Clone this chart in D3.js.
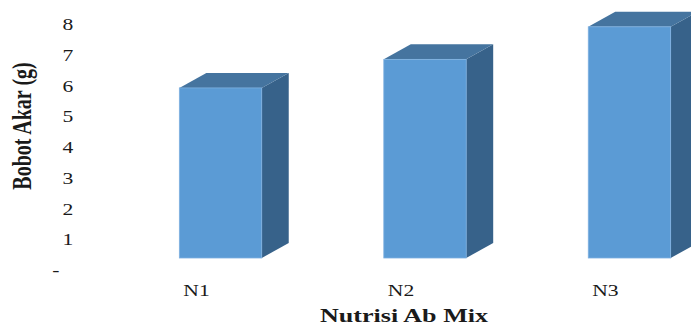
<!DOCTYPE html>
<html>
<head>
<meta charset="utf-8">
<script src="https://cdn.jsdelivr.net/npm/d3@7"></script>
<style>
  html, body { margin: 0; padding: 0; background: #fff; }
  svg { display: block; }
  text { font-family: "Liberation Serif", "Times New Roman", serif; fill: #1a1a1a; }
</style>
</head>
<body>
<svg id="chart" width="691" height="326"></svg>
<script>
// Root weight per nutrient treatment
const categories = ["N1", "N2", "N3"];
const values = [5.54, 6.47, 7.53];
const yTicks = [0, 1, 2, 3, 4, 5, 6, 7, 8];
const xTitle = "Nutrisi Ab Mix";
const yTitle = "Bobot Akar (g)";

const W = 691, H = 326;
const svg = d3.select("#chart");

// 3D box depth offsets
const depthX = 27, depthY = 15;
const floorY = 258;      // front bottom edge of the columns
const unit = 30.7;       // pixels per gram
const stretch = 1.35;    // horizontal widening of the lettering

const x = d3.scaleBand()
  .domain(categories)
  .range([118, 732])
  .paddingInner(0.597)
  .paddingOuter(0.3);

const y = d3.scaleLinear()
  .domain([0, 8])
  .range([floorY, floorY - 8 * unit]);

// Columns
const bars = svg.append("g").attr("class", "bars");
const bw = x.bandwidth();
const data = categories.map((c, i) => ({ c, v: values[i] }));

const g = bars.selectAll("g.bar").data(data).join("g").attr("class", "bar");

g.append("polygon")
  .attr("fill", "#37628a")
  .attr("points", d => {
    const x0 = x(d.c) + bw, yt = y(d.v), yb = y(0);
    return [[x0, yt], [x0 + depthX, yt - depthY], [x0 + depthX, yb - depthY], [x0, yb]].join(" ");
  });

g.append("polygon")
  .attr("fill", "#45749f")
  .attr("points", d => {
    const x0 = x(d.c), yt = y(d.v);
    return [[x0, yt], [x0 + depthX, yt - depthY], [x0 + bw + depthX, yt - depthY], [x0 + bw, yt]].join(" ");
  });

g.append("rect")
  .attr("x", d => x(d.c))
  .attr("y", d => y(d.v))
  .attr("width", bw)
  .attr("height", d => y(0) - y(d.v))
  .attr("fill", "#5b9bd5")
  .attr("stroke", "#7eb0e0")
  .attr("stroke-width", 0.8);

// Value axis labels
const yAxis = svg.append("g")
  .attr("transform", "translate(68,12)")
  .call(d3.axisLeft(y).tickValues(yTicks).tickSize(0)
    .tickFormat(d => d === 0 ? "-" : d3.format("d")(d)));
yAxis.select(".domain").remove();
yAxis.selectAll("text")
  .attr("x", d => d === 0 ? -9 : 0)
  .attr("dy", "0.34em")
  .attr("text-anchor", "middle")
  .attr("font-family", "Liberation Serif, serif")
  .attr("font-size", 16)
  .attr("fill", "#1a1a1a")
  .attr("transform", `scale(${stretch},1)`);

// Category axis labels
const xAxis = svg.append("g")
  .attr("transform", "translate(-24,291)")
  .call(d3.axisBottom(x).tickSize(0));
xAxis.select(".domain").remove();
xAxis.selectAll(".tick text")
  .attr("y", 0)
  .attr("dy", "0.34em")
  .attr("text-anchor", "middle")
  .attr("font-family", "Liberation Serif, serif")
  .attr("font-size", 16)
  .attr("fill", "#1a1a1a")
  .attr("transform", `scale(${stretch},1)`);

// Axis titles
svg.append("g")
  .attr("transform", "translate(404,316) scale(1.45,1)")
  .append("text")
  .attr("text-anchor", "middle")
  .attr("dy", "0.34em")
  .attr("font-weight", "bold")
  .attr("font-size", 18)
  .text(xTitle);

svg.append("g")
  .attr("transform", `translate(22,126) scale(${stretch},1) rotate(-90)`)
  .append("text")
  .attr("text-anchor", "middle")
  .attr("dy", "0.34em")
  .attr("font-weight", "bold")
  .attr("font-size", 20)
  .text(yTitle);
</script>
</body>
</html>
